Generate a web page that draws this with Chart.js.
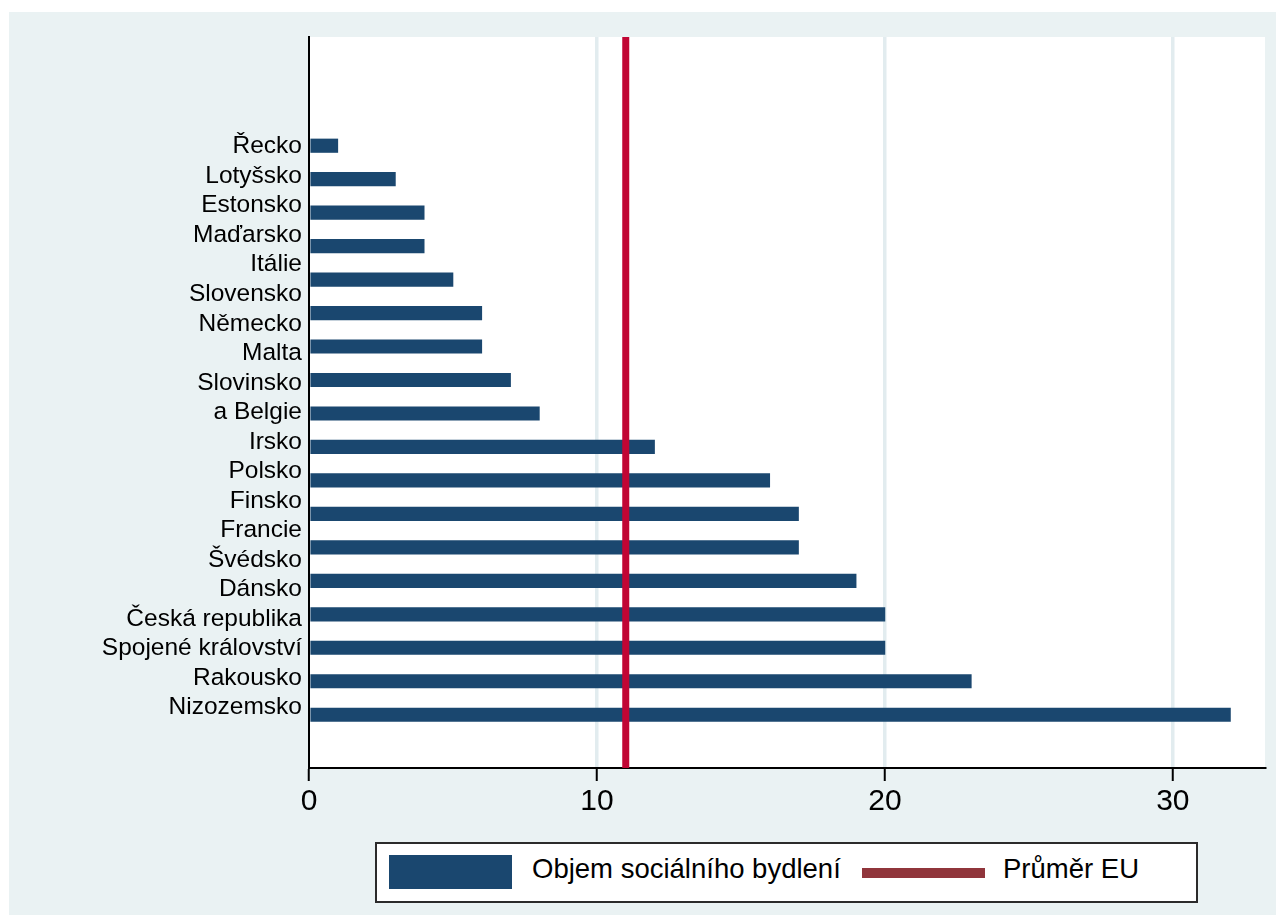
<!DOCTYPE html>
<html>
<head>
<meta charset="utf-8">
<script src="https://cdn.jsdelivr.net/npm/chart.js@4.4.1/dist/chart.umd.min.js"></script>
<style>
  html, body { margin: 0; padding: 0; background: #fff; }
  body { width: 1282px; height: 922px; position: relative; overflow: hidden; font-family: "Liberation Sans", Arial, sans-serif; }
  .frame { position: absolute; left: 9px; top: 12px; width: 1267px; height: 903px; background: #eaf2f3; }
  #graph { position: absolute; left: 0; top: 0; }
  .legend { position: absolute; left: 375px; top: 842px; width: 819px; height: 57px; border: 2px solid #2b2b2b; background: #fff; }
  .legend .swatch { position: absolute; }
  .legend .text { position: absolute; top: 0; line-height: 49px; font-size: 27.5px; color: #000; white-space: nowrap; }
</style>
</head>
<body>
<div class="frame"></div>
<canvas id="graph" width="1282" height="922"></canvas>
<div class="legend" id="legend"></div>
<script>
// bars, top to bottom
const barValues = [1, 3, 4, 4, 5, 6, 6, 7, 8, 12, 16, 17, 17, 19, 20, 20, 23, 32];
// axis labels as printed (20 labels, not lined up with the 18 bars)
const countryLabels = [
  "Řecko", "Lotyšsko", "Estonsko", "Maďarsko", "Itálie", "Slovensko", "Německo",
  "Malta", "Slovinsko", "a Belgie", "Irsko", "Polsko", "Finsko", "Francie",
  "Švédsko", "Dánsko", "Česká republika", "Spojené království", "Rakousko", "Nizozemsko"
];
const xTickValues = [0, 10, 20, 30];
const euAverage = 11;
const seriesName = "Objem sociálního bydlení";
const averageName = "Průměr EU";

const BAR_COLOR = "#1a476f";
const AVG_COLOR = "#c10534";
const AVG_LEGEND_COLOR = "#90353b";

Chart.defaults.font.family = '"Liberation Sans", Arial, sans-serif';
Chart.defaults.color = "#000";

const plotBackground = {
  id: "plotBackground",
  beforeDraw(chart) {
    const { ctx, chartArea: a } = chart;
    ctx.save();
    ctx.fillStyle = "#fff";
    ctx.fillRect(a.left, a.top, a.right - a.left, a.bottom - a.top);
    ctx.restore();
  },
};

const averageLine = {
  id: "averageLine",
  afterDatasetsDraw(chart) {
    const { ctx, chartArea: a, scales } = chart;
    const x = scales.x.getPixelForValue(euAverage);
    ctx.save();
    ctx.strokeStyle = AVG_COLOR;
    ctx.lineWidth = 7;
    ctx.beginPath();
    ctx.moveTo(x, a.top);
    ctx.lineTo(x, a.bottom);
    ctx.stroke();
    ctx.restore();
  },
};

const chart = new Chart(document.getElementById("graph").getContext("2d"), {
  type: "bar",
  data: {
    datasets: [
      {
        label: seriesName,
        data: barValues.map((v, i) => ({ x: v, y: i })),
        backgroundColor: BAR_COLOR,
        barThickness: 13.5,
        yAxisID: "y",
      },
    ],
  },
  options: {
    indexAxis: "y",
    responsive: false,
    animation: false,
    layout: { padding: { left: 0, top: 37, right: 17, bottom: 94 } },
    plugins: {
      legend: { display: false },
      tooltip: { enabled: false },
    },
    scales: {
      x: {
        type: "linear",
        min: 0,
        max: 33.2,
        afterBuildTicks: (s) => { s.ticks = xTickValues.map((v) => ({ value: v })); },
        afterFit: (s) => { s.height = 60; },
        grid: {
          color: (c) => (c.tick && c.tick.value === 0 ? "rgba(0,0,0,0)" : "#e2ecef"),
          lineWidth: 3.5,
          tickLength: 13,
          tickColor: "#000",
          tickWidth: 2,
        },
        border: { color: "#000", width: 2 },
        ticks: { font: { size: 30 }, color: "#000", padding: 3, maxRotation: 0 },
      },
      y: {
        type: "linear",
        display: false,
        offset: false,
        reverse: true,
        min: -3.248,
        max: 18.592,
      },
      y2: {
        type: "linear",
        position: "left",
        offset: false,
        reverse: true,
        min: -3.71,
        max: 21.04,
        afterBuildTicks: (s) => { s.ticks = countryLabels.map((_, i) => ({ value: i })); },
        afterFit: (s) => { s.width = 309; },
        grid: { display: false, drawTicks: false, offset: false },
        border: { display: true, color: "#000", width: 2 },
        ticks: {
          autoSkip: false,
          padding: 7,
          font: { size: 24.5 },
          color: "#000",
          callback: (v) => countryLabels[v],
        },
      },
    },
  },
  plugins: [plotBackground, averageLine],
});

// legend box under the plot
const legend = document.getElementById("legend");
legend.innerHTML =
  '<div class="swatch" style="left:12px;top:11px;width:123px;height:34px;background:' + BAR_COLOR + '"></div>' +
  '<div class="text" style="left:155px">' + seriesName + '</div>' +
  '<div class="swatch" style="left:485px;top:24px;width:123px;height:10px;background:' + AVG_LEGEND_COLOR + '"></div>' +
  '<div class="text" style="left:626px">' + averageName + '</div>';
</script>
</body>
</html>
